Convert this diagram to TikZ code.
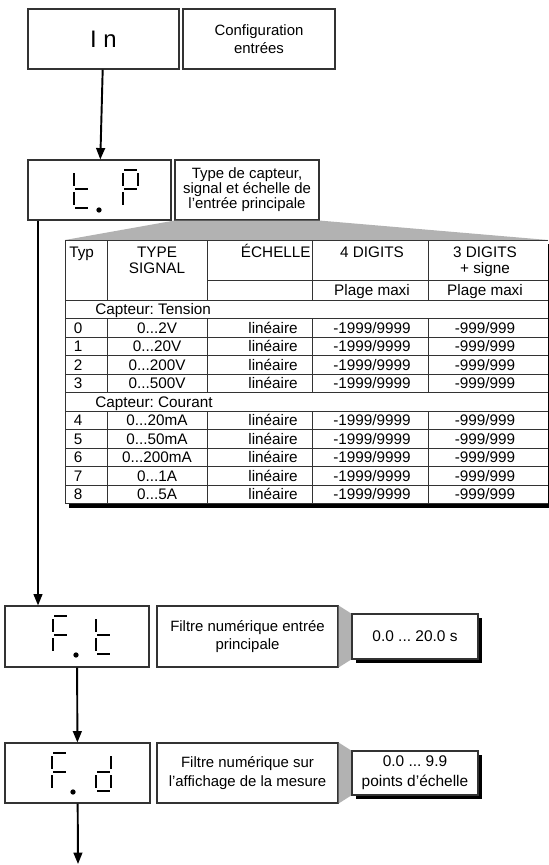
\documentclass[tikz,border=0pt]{standalone}
\usepackage{fontspec}
\setmainfont{Liberation Sans}
\usetikzlibrary{arrows.meta,positioning,shadows}
\frenchspacing

\tikzset{
  box/.style={draw=black!80, line width=0.6pt, inner sep=0pt, align=center, fill=white,
    font=\fontsize{8.5}{10.2}\selectfont},
  size/.style 2 args={minimum width=#1*0.02cm, minimum height=#2*0.02cm},
  valbox/.style={box, font=\fontsize{8.8}{11.3}\selectfont,
    drop shadow={shadow xshift=2.3pt, shadow yshift=-2.3pt, opacity=1, fill=black}},
  flow/.style={line width=1.1pt, -{Triangle[length=6.5pt,width=5pt]}},
  seg/.style={line width=1.25pt},
  cell/.style={inner sep=0pt, text height=6.2pt, text depth=0pt,
    font=\fontsize{8.7}{9.1}\selectfont},
  rule/.style={line width=0.5pt, black!80},
  wedge/.style={fill=black!30},
}

% afficheur 7 segments : #1 coin haut gauche, #2 liste de segments
\newcommand\segdigit[2]{%
  \begin{scope}[shift={(#1)}]
    \foreach \s in {#2}{
      \if a\s \draw[seg] (1,0) -- (14,0); \fi
      \if b\s \draw[seg] (15,3) -- (15,16); \fi
      \if c\s \draw[seg] (15,22) -- (15,35); \fi
      \if d\s \draw[seg] (1,38) -- (14,38); \fi
      \if e\s \draw[seg] (0,22) -- (0,35); \fi
      \if f\s \draw[seg] (0,3) -- (0,16); \fi
      \if g\s \draw[seg] (1,19) -- (14,19); \fi
    }
  \end{scope}}
\newcommand\pp{...}

\begin{document}
\begin{tikzpicture}[x=0.02cm, y=-0.02cm]
  \useasboundingbox (0,0) rectangle (548,865);

  % menu In
  \node[box, size={151}{60}] (in) at (103.5,39) {\fontsize{13.6}{14}\selectfont I n};
  \node[box, size={152}{60}] (inlbl) at (259,39) {Configuration\\entrées};

  % menu t.P
  \node[box, size={143}{60}] (tp) at (99.5,190) {};
  \node[box, size={144}{60}, font=\fontsize{8.5}{8.6}\selectfont] (tplbl) at (247,190)
    {Type de capteur,\\signal et échelle de\\l’entrée principale};
  \segdigit{74,170}{f,e,g,d}
  \segdigit{123,170}{a,b,f,g,e}
  \fill (99,210) circle (1.5pt);

  % tableau des entrees
  \fill[wedge] (tplbl.south west) -- (tplbl.south east) -- (548,240) -- (65,240) -- cycle;
  \fill[black] (69,244) rectangle (552,508);
  \fill[white] (65,240) rectangle (548,503.5);
  \draw[rule] (548,240) -- (65,240) -- (65,503.5) -- (548,503.5);
  \draw[rule] (207,280) -- (548,280);
  \draw[rule] (65,300) -- (548,300);
  \foreach \y in {318.5,337,355.5,374,392.5,411,429.5,448,466.5,485}
    \draw[rule] (65,\y) -- (548,\y);
  \foreach \x in {107,207,312,428} {
    \draw[rule] (\x,240) -- (\x,300);
    \draw[rule] (\x,318.5) -- (\x,392.5);
    \draw[rule] (\x,411) -- (\x,503.5);
  }
  \node[cell, anchor=west] at (69,252) {Typ};
  \node[cell] at (157,252) {TYPE};
  \node[cell] at (157,268) {SIGNAL};
  \node[cell, anchor=east] at (311,252) {ÉCHELLE};
  \node[cell] at (372,252) {4 DIGITS};
  \node[cell] at (485,252) {3 DIGITS};
  \node[cell] at (485,268) {+ signe};
  \node[cell] at (372,290.5) {Plage maxi};
  \node[cell] at (485,290.5) {Plage maxi};
  \node[cell, anchor=west] at (95,309) {Capteur: Tension};
  \node[cell, anchor=west] at (95,401.75) {Capteur: Courant};
  \foreach \t/\sig/\y in {0/0\pp2V/327.75, 1/0\pp20V/346.25, 2/0\pp200V/364.75, 3/0\pp500V/383.25,
      4/0\pp20mA/420.25, 5/0\pp50mA/438.75, 6/0\pp200mA/457.25, 7/0\pp1A/475.75, 8/0\pp5A/494.25} {
    \node[cell] at (78,\y) {\t};
    \node[cell] at (157,\y) {\sig};
    \node[cell] at (273,\y) {linéaire};
    \node[cell] at (372,\y) {-1999/9999};
    \node[cell] at (485,\y) {-999/999};
  }

  % menu F.t
  \node[box, size={144}{61}] (ft) at (77,636.5) {};
  \node[box, size={181}{61}] (ftlbl) at (247.5,636.5) {Filtre numérique entrée\\principale};
  \fill[wedge] (ftlbl.north east) -- (352,614) -- (352,659) -- (ftlbl.south east) -- cycle;
  \node[valbox, size={126}{45}] (ftval) at (415,636.5) {0.0 ... 20.0 s};
  \segdigit{53,616}{a,f,g,e}
  \segdigit{96,616}{f,e,g,d}
  \fill (76,655) circle (1.5pt);

  % menu F.d
  \node[box, size={145}{60}, font=\fontsize{8.5}{11.3}\selectfont] (fd) at (77.5,773) {};
  \node[box, size={181}{60}, font=\fontsize{8.5}{11.3}\selectfont] (fdlbl) at (247.5,773)
    {Filtre numérique sur\\l’affichage de la mesure};
  \fill[wedge] (fdlbl.north east) -- (352,751) -- (352,795) -- (fdlbl.south east) -- cycle;
  \node[valbox, size={126}{44}] (fdval) at (415,773) {0.0 ... 9.9\\points d’échelle};
  \segdigit{52,753}{a,f,g,e}
  \segdigit{96,753}{b,g,e,c,d}
  \fill (73,792) circle (1.5pt);

  % liaisons
  \coordinate (drop) at (38,0);
  \coordinate (next) at (78,864);
  \draw[flow] (in) -- (tp);
  \draw[flow] (tp.south -| drop) -- (ft.north -| drop);
  \draw[flow] (ft) -- (fd);
  \draw[flow] (fd) -- (next);
\end{tikzpicture}
\end{document}
